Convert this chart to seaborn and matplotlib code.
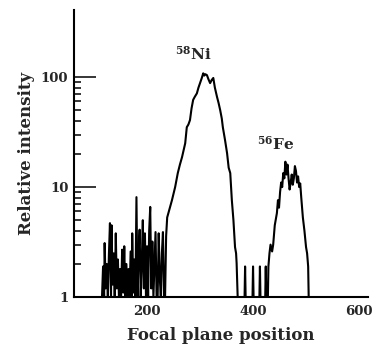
import numpy as np
import pandas as pd
import matplotlib
matplotlib.use("Agg")
import matplotlib.pyplot as plt
import matplotlib.ticker as mticker
import seaborn as sns

# Focal plane position (channel) and relative intensity
noise_x = [115, 117, 119, 120, 122, 124, 126, 128, 130, 132, 133, 135, 137, 139, 141, 143,
           145, 147, 149, 151, 153, 155, 157, 159, 161, 163, 165, 167, 169, 171, 172, 174,
           176, 178, 180, 182, 184, 186, 188, 190, 192, 194, 196, 198, 200, 202, 204, 206,
           208, 210, 212, 214, 216, 218, 220, 222, 224, 226, 228, 230, 232, 234, 236, 238]
noise_y = [1, 1.9, 1, 3.1, 1.2, 2.0, 1, 2.4, 4.7, 1, 4.5, 1.3, 2.5, 1, 3.8, 1.2,
           2.2, 1, 1.8, 1, 2.7, 1.1, 2.9, 1, 2.0, 1, 1.8, 1, 2.6, 1, 3.8, 1.1,
           2.2, 1, 8.1, 1, 2.4, 4.1, 1, 2.0, 5.0, 1.2, 3.8, 1, 2.9, 1, 4.0, 6.6,
           1.2, 3.2, 1, 2.0, 3.9, 1, 1, 3.8, 1.5, 1, 2.5, 3.9, 1, 1, 3.6, 5.3]
ni_x = [242, 247, 253, 258, 262, 266, 272, 275, 278, 281, 284, 287, 290, 294, 297, 300,
        303, 306, 308, 310, 313, 316, 319, 322, 325, 328, 332, 335, 338, 341, 343, 347,
        351, 354, 357, 359, 360, 363, 366, 368, 369, 370, 371]
ni_y = [6.2, 7.6, 10, 13.4, 16, 18.7, 25, 35, 37, 40.6, 52, 62, 66, 71, 80, 88,
        97, 108, 103, 106, 104, 95, 88, 94, 98, 80, 66, 58, 50, 42, 35, 27,
        20.3, 15, 13.4, 9, 7.6, 5, 2.85, 2.5, 2.04, 1.43, 1]
gap_x = [375, 384, 385, 386, 399, 400, 401, 412, 413, 414, 423, 424, 425]
gap_y = [1, 1, 1.9, 1, 1, 1.9, 1, 1, 1.9, 1, 1, 1.9, 1]
fe_x = [428, 429, 431, 433, 436, 438, 441, 445, 447, 449, 451, 453, 455, 457, 459, 461,
        463, 465, 467, 469, 471, 473, 475, 477, 479, 481, 483, 485, 487, 489, 491, 494,
        497, 500, 502, 504, 505]
fe_y = [1, 1.9, 2.5, 3.0, 2.6, 3.0, 4.5, 5.8, 7.6, 6.5, 9, 11, 10, 13.4, 12, 17,
        13, 16, 12, 9.5, 11, 13, 10.5, 12, 15.5, 14, 11, 12.5, 10, 10.8, 8, 5.3,
        4, 2.85, 2.5, 1.9, 1]

x_ticks = [200, 400, 600]
y_ticks = [1, 10, 100]
y_ticklabels = ["1", "10", "100"]
peak_labels = [("58", "Ni"), ("56", "Fe")]

df = pd.DataFrame({
    "pos": noise_x + ni_x + gap_x + fe_x,
    "intensity": noise_y + ni_y + gap_y + fe_y,
})

sns.set_theme(style="ticks")
plt.rcParams["font.family"] = ["DejaVu Serif"]
plt.rcParams["font.weight"] = "bold"
plt.rcParams["mathtext.fontset"] = "dejavuserif"

fig = plt.figure(figsize=(3.81, 3.58), dpi=100)
ax = fig.add_axes([0.194, 0.170, 0.772, 0.802])
sns.lineplot(data=df, x="pos", y="intensity", estimator=None, sort=False,
             color="black", linewidth=1.5, ax=ax)
ax.set_yscale("log")
ax.set_xlim(62, 617)
ax.set_ylim(1, 406)

ax.set_xticks(x_ticks)
ax.set_xticklabels([str(t) for t in x_ticks], fontsize=9.5, fontweight="bold")
ax.tick_params(axis="x", length=0, pad=6)

ax.yaxis.set_major_locator(mticker.FixedLocator(y_ticks))
ax.set_yticklabels(y_ticklabels, fontsize=9.5, fontweight="bold")
minor = [m * d for d in (1, 10) for m in range(2, 10)]
ax.yaxis.set_minor_locator(mticker.FixedLocator(minor))
ax.yaxis.set_minor_formatter(mticker.NullFormatter())
ax.tick_params(axis="y", which="major", direction="in", length=16, width=1.3, pad=4)
ax.tick_params(axis="y", which="minor", direction="in", length=5, width=1.3)

for s in ("top", "right"):
    ax.spines[s].set_visible(False)
for s in ("left", "bottom"):
    ax.spines[s].set_linewidth(1.5)
    ax.spines[s].set_color("black")

ax.set_xlabel("Focal plane position", fontsize=12, fontweight="bold", labelpad=6)
ax.set_ylabel("Relative intensity", fontsize=12, fontweight="bold", labelpad=4)

for (mass, sym), (lx, ly) in zip(peak_labels, [(287, 135), (443, 20.5)]):
    ax.text(lx, ly, r"$^{\mathbf{%s}}$%s" % (mass, sym),
            ha="center", va="bottom", fontsize=11, fontweight="bold")

fig.savefig("out.png", dpi=100)
